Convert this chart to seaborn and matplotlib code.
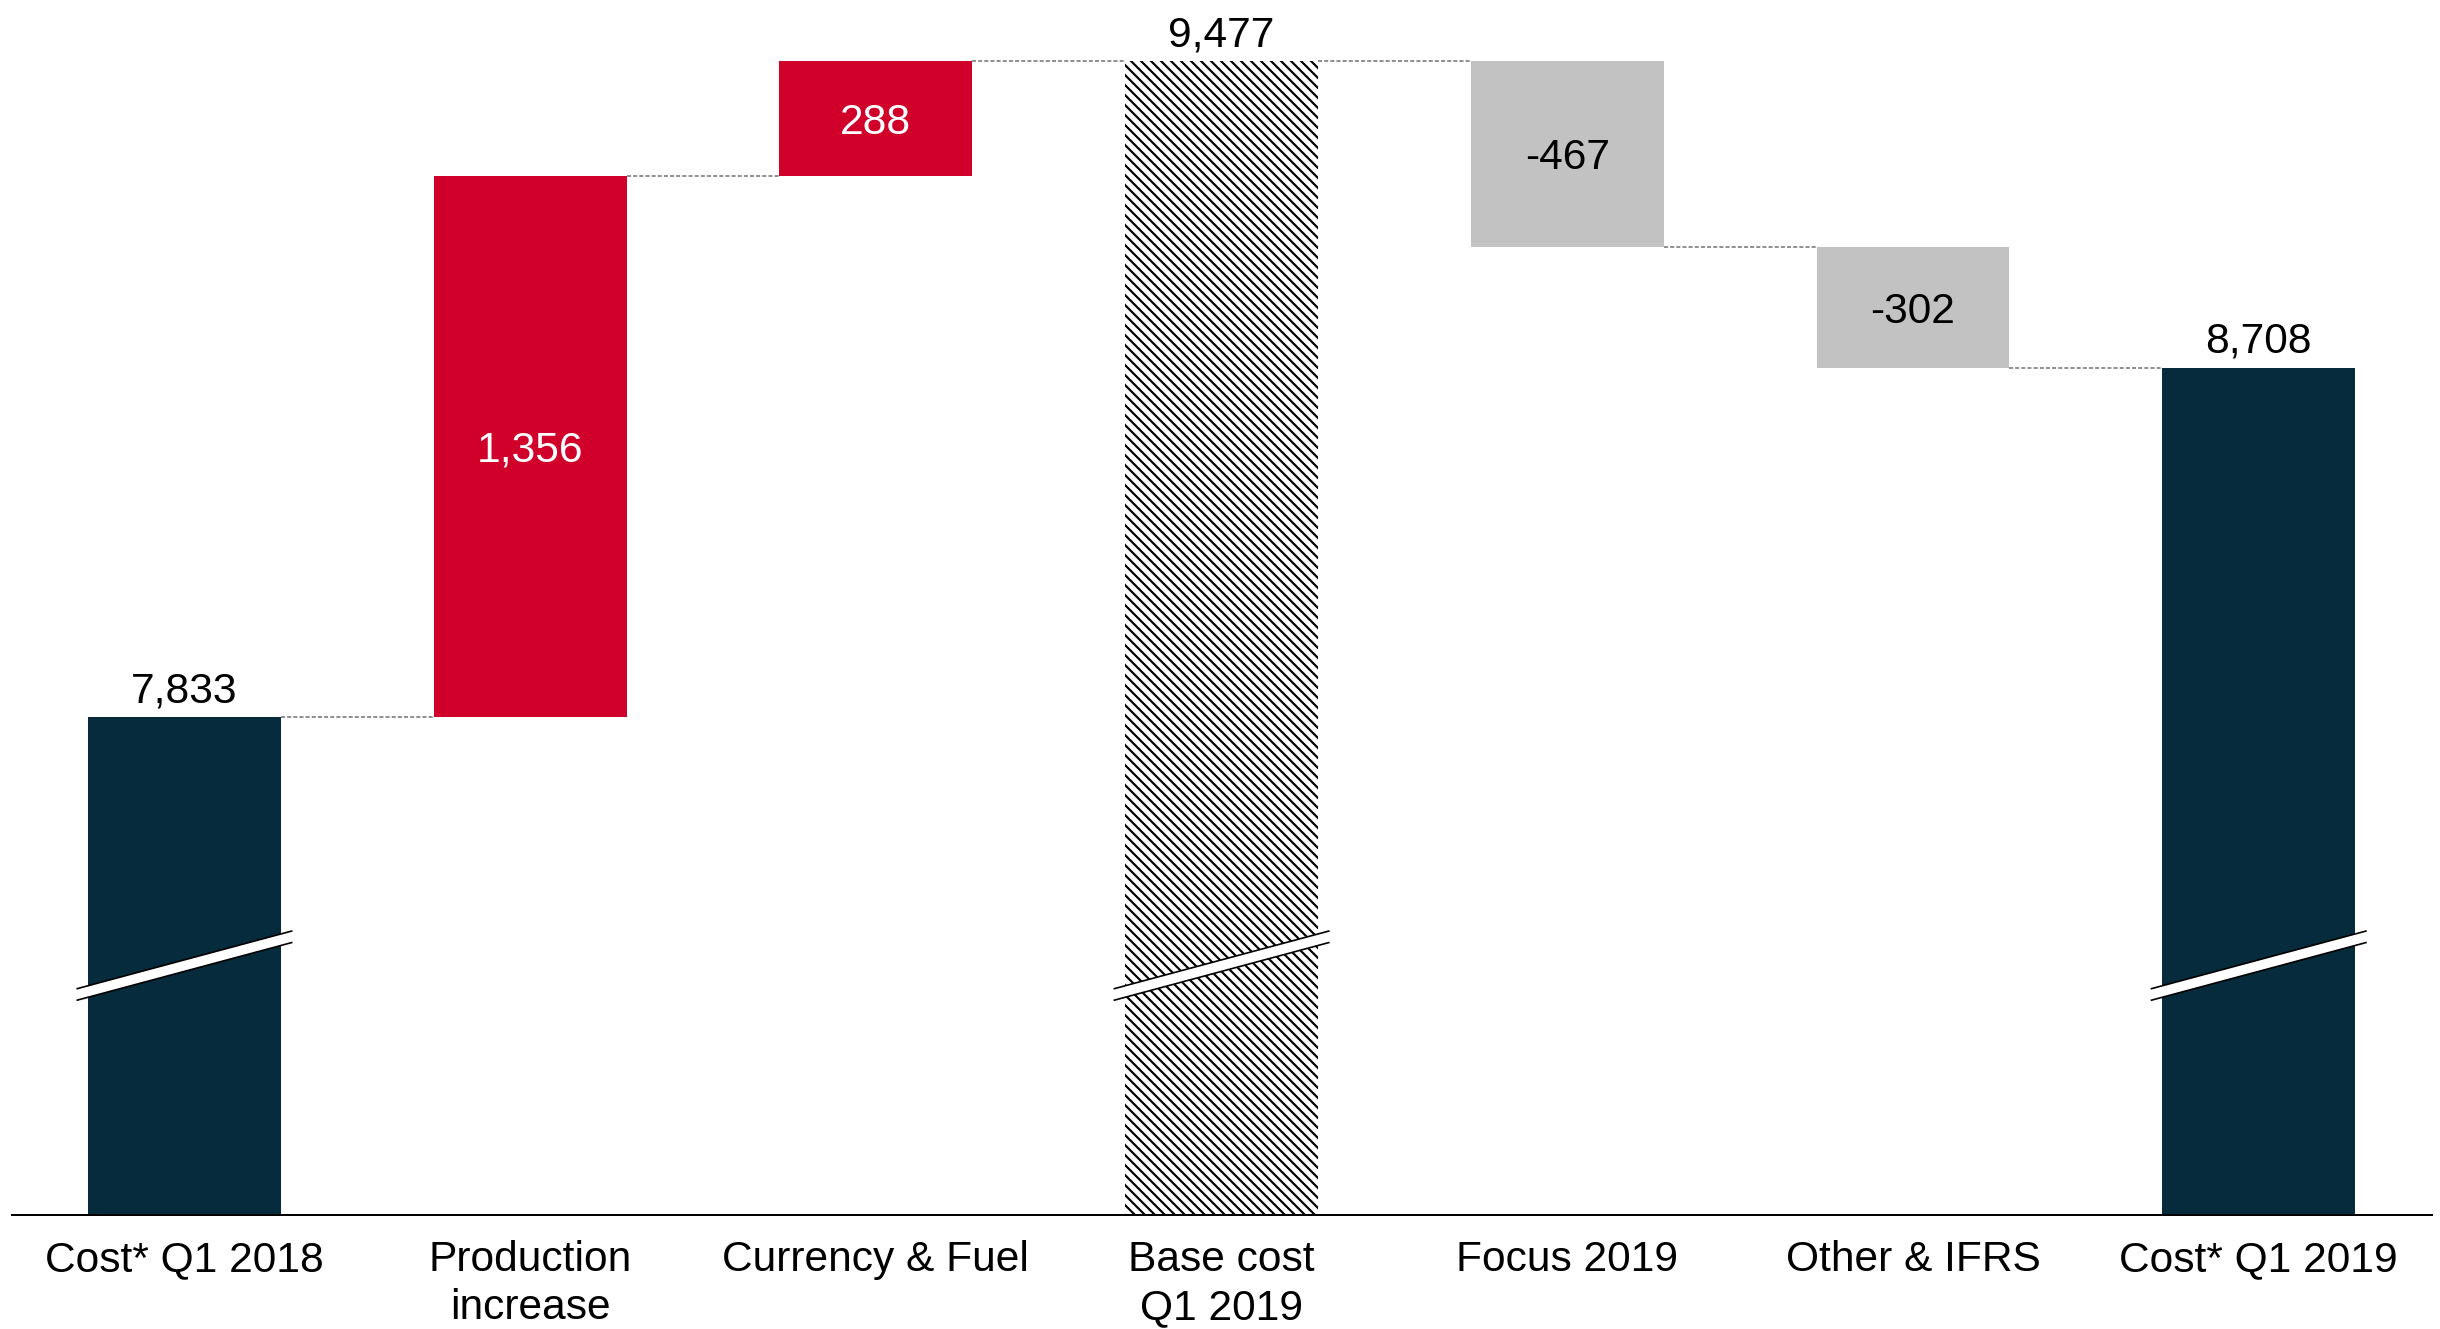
import numpy as np
import pandas as pd
import matplotlib
matplotlib.use("Agg")
import matplotlib.pyplot as plt
import matplotlib.transforms as mtransforms
from matplotlib.patches import Polygon
from matplotlib.lines import Line2D
import seaborn as sns

# ---- data -------------------------------------------------------------
categories = ["Cost* Q1 2018", "Production\nincrease", "Currency & Fuel",
              "Base cost\nQ1 2019", "Focus 2019", "Other & IFRS", "Cost* Q1 2019"]
values = [7833, 1356, 288, 9477, -467, -302, 8708]
kinds = ["total", "increase", "increase", "base", "decrease", "decrease", "total"]

# axis starts above zero; bars that start at zero are drawn with a break mark
y_min, y_max = 6585, 9630
break_level = 7210

colors = {"total": "#052B3C", "increase": "#D0002B", "decrease": "#C2C2C2", "base": "white"}
label_colors = {"total": "black", "increase": "white", "decrease": "black", "base": "black"}

# ---- waterfall geometry ----------------------------------------------
bottoms, heights, levels = [], [], []
running = 0
for v, k in zip(values, kinds):
    if k in ("total", "base"):
        bottoms.append(0)
        heights.append(v)
        running = v
    elif v >= 0:
        bottoms.append(running)
        heights.append(v)
        running += v
    else:
        bottoms.append(running + v)
        heights.append(-v)
        running += v
    levels.append(running)

df = pd.DataFrame({"category": categories, "value": values, "kind": kinds,
                   "bottom": bottoms, "height": heights, "level": levels})

# ---- figure -----------------------------------------------------------
sns.set_theme(style="white")
plt.rcParams["font.family"] = ["Liberation Sans", "DejaVu Sans"]
plt.rcParams["hatch.linewidth"] = 1.3

DPI = 120
fig = plt.figure(figsize=(2440 / DPI, 1329 / DPI), dpi=DPI)
ax = fig.add_axes([11.6 / 2440, 1 - 1215 / 1329, 2420 / 2440, 1215 / 1329])

bar_width = 0.558
for kind in ["total", "increase", "decrease", "base"]:
    sub = df[df["kind"] == kind]
    extra = {}
    if kind == "base":
        extra = dict(hatch="\\\\\\\\", edgecolor="black")
    sns.barplot(data=sub, x="category", y="height", order=categories,
                bottom=sub["bottom"].values, color=colors[kind], saturation=1,
                width=bar_width, errorbar=None, linewidth=0, ax=ax, **extra)

ax.set_xlim(-0.5, len(categories) - 0.5)
ax.set_ylim(y_min, y_max)

# dashed connectors between neighbouring bars
for i in range(len(categories) - 1):
    ax.plot([i + bar_width / 2, i + 1 - bar_width / 2], [levels[i], levels[i]],
            color="#6F6F6F", lw=0.9, linestyle=(0, (2.7, 1.4)), zorder=1)

# value labels
fs = 25.5
for i, row in df.iterrows():
    text = f"{row['value']:,}"
    if row["kind"] in ("total", "base"):
        ax.annotate(text, (i, row["value"]), xytext=(0, 9), textcoords="offset points",
                    ha="center", va="baseline", fontsize=fs, color="black")
    else:
        mid = row["bottom"] + row["height"] / 2
        ax.annotate(text, (i, mid), xytext=(0, -9.1), textcoords="offset points",
                    ha="center", va="baseline", fontsize=fs, color=label_colors[row["kind"]])

# axis break marks on the bars that start at zero
half_len, half_rise, gap = 0.9, 0.2417, 0.096
for i, row in df.iterrows():
    if row["kind"] not in ("total", "base"):
        continue
    trans = fig.dpi_scale_trans + mtransforms.ScaledTranslation(i, break_level, ax.transData)
    poly = Polygon([(-half_len, -half_rise + gap / 2), (half_len, half_rise + gap / 2),
                    (half_len, half_rise - gap / 2), (-half_len, -half_rise - gap / 2)],
                   closed=True, facecolor="white", edgecolor="none", transform=trans,
                   zorder=5, clip_on=False)
    ax.add_patch(poly)
    for s in (1, -1):
        ax.add_line(Line2D([-half_len, half_len],
                           [-half_rise + s * gap / 2, half_rise + s * gap / 2],
                           color="black", lw=1.0, transform=trans, zorder=6,
                           clip_on=False, solid_capstyle="butt"))

# axes styling
for side in ("left", "top", "right"):
    ax.spines[side].set_visible(False)
ax.spines["bottom"].set_color("black")
ax.spines["bottom"].set_linewidth(1.2)
ax.set_yticks([])
ax.set_xlabel("")
ax.set_ylabel("")
ax.set_xticks(range(len(categories)))
ax.set_xticklabels(categories, fontsize=fs, color="black")
ax.tick_params(axis="x", length=0, pad=15)
for lbl in ax.get_xticklabels():
    lbl.set_linespacing(1.26)

fig.savefig("out.png", dpi=DPI, facecolor="white")
